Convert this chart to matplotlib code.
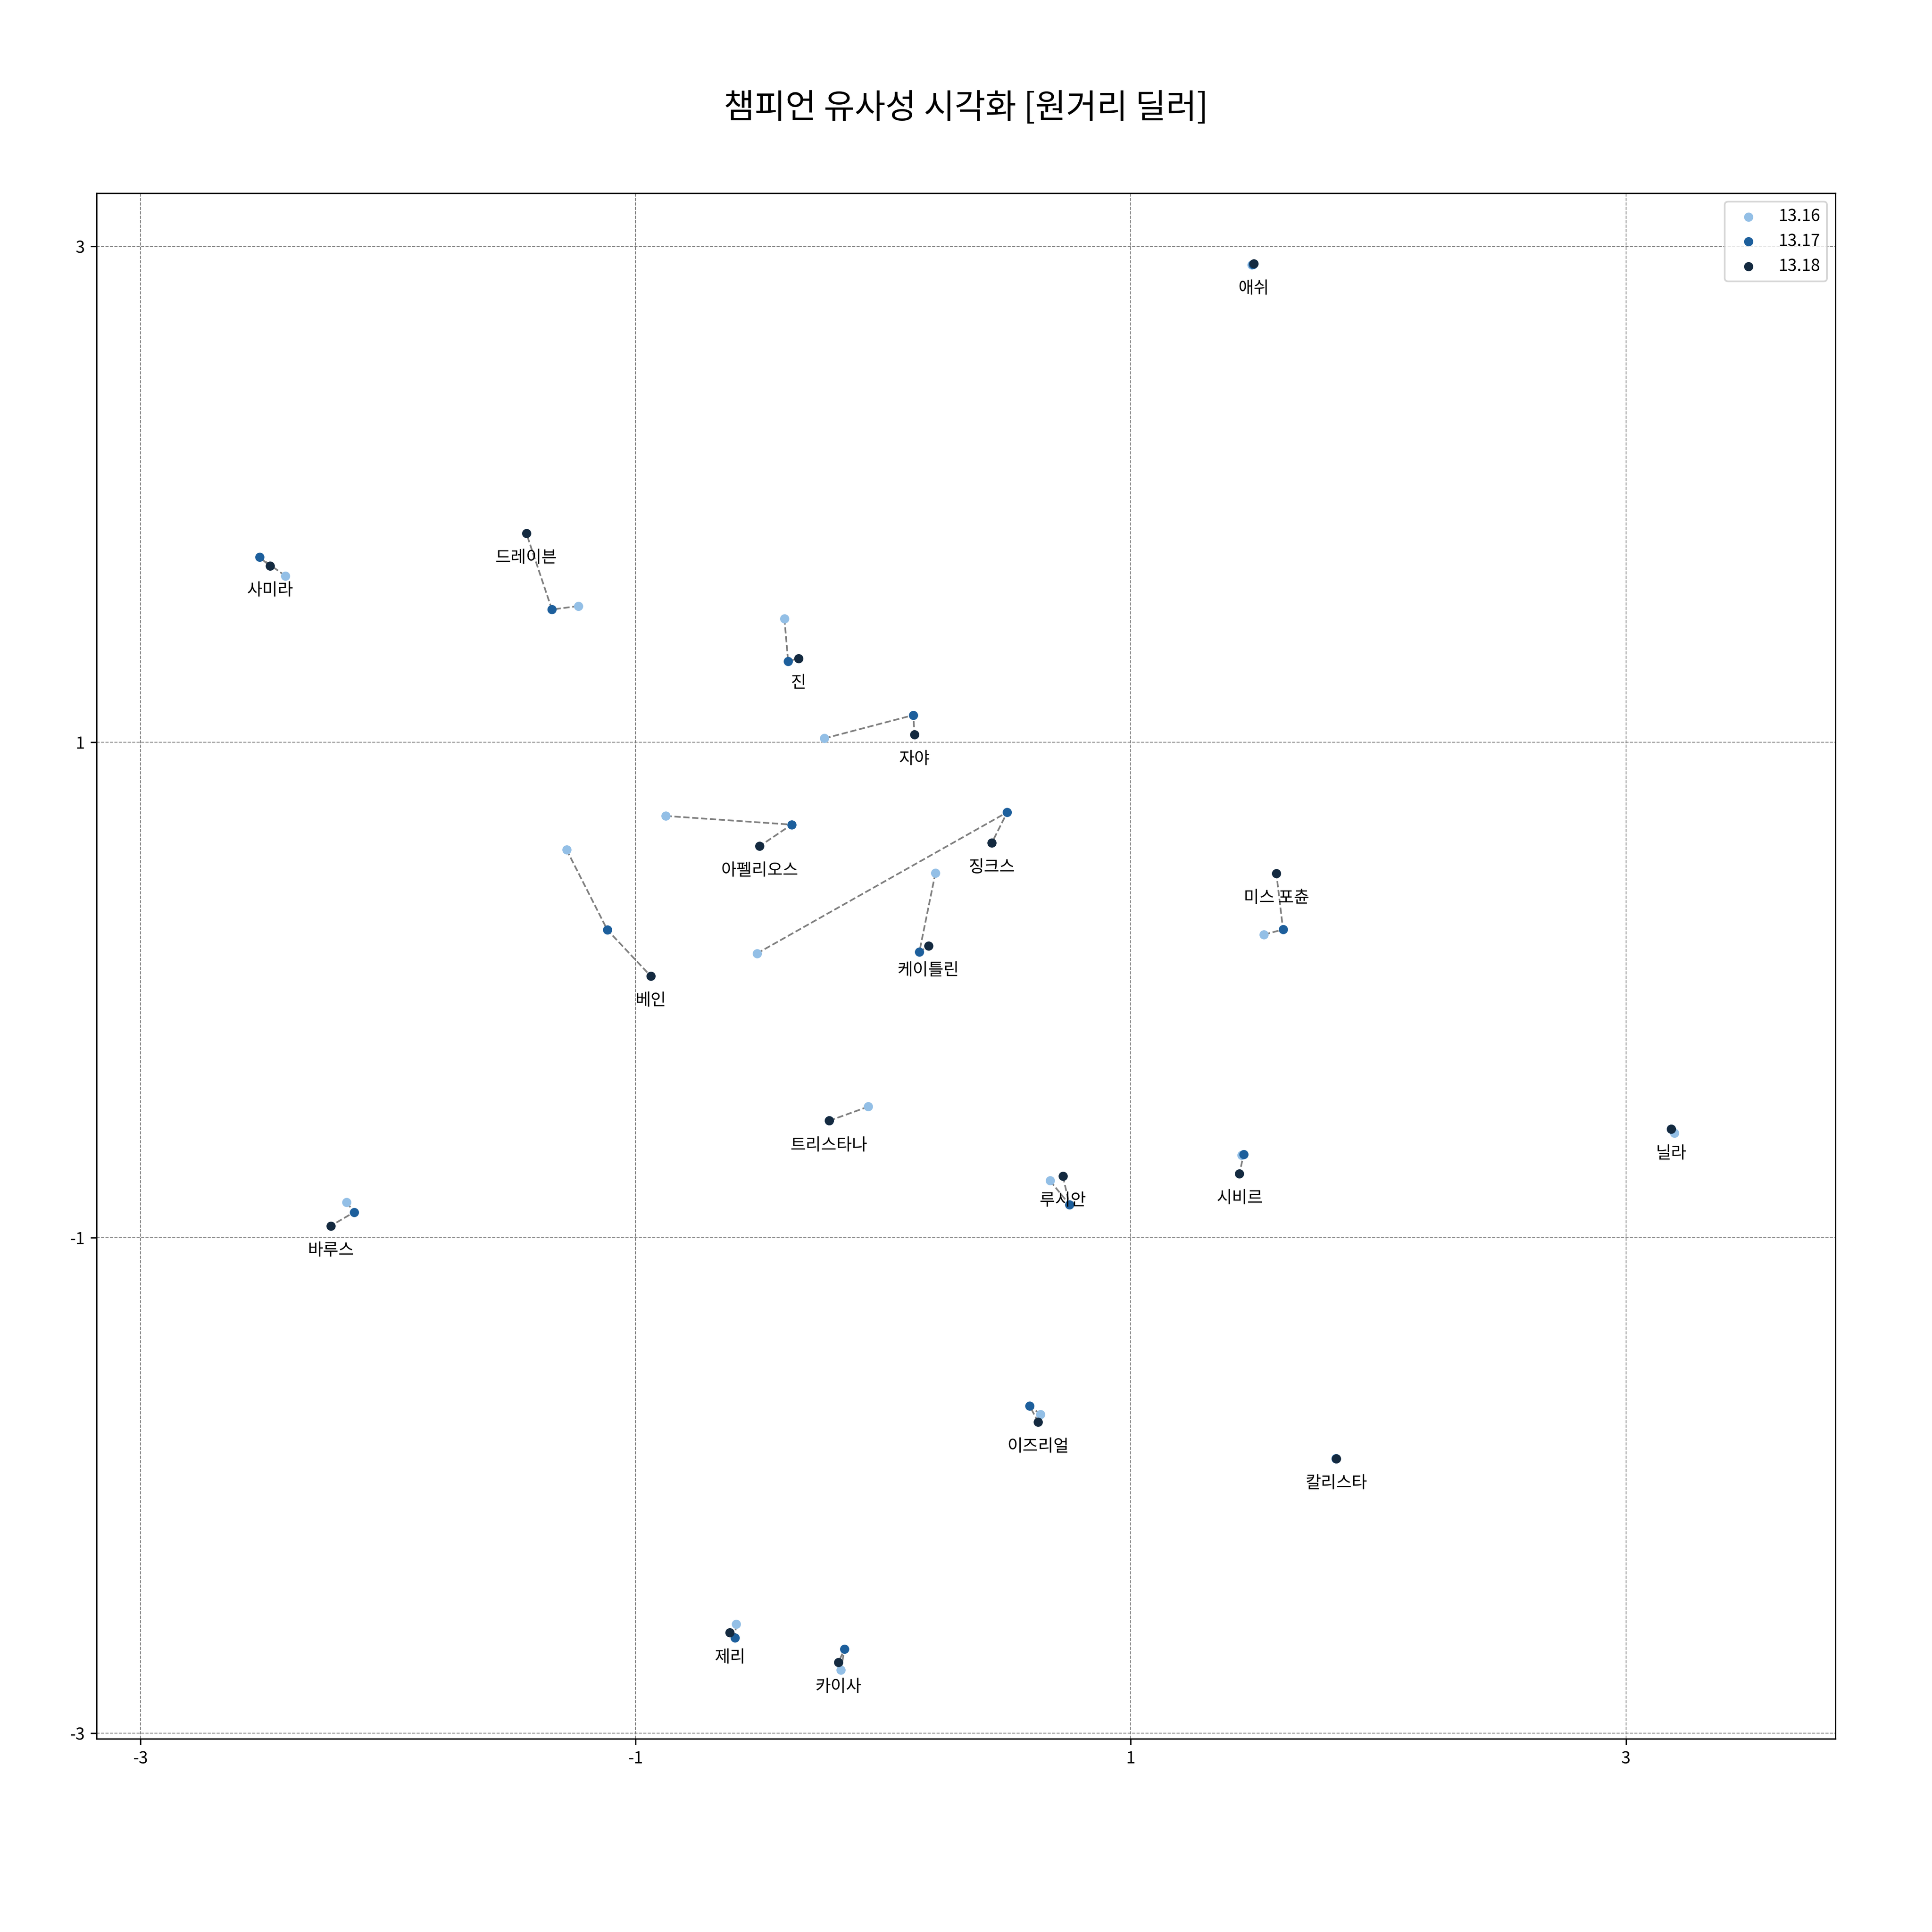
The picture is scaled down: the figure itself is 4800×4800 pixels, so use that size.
import matplotlib
matplotlib.use("Agg")
import matplotlib.pyplot as plt

plt.rcParams['font.family'] = ['Noto Sans CJK KR', 'DejaVu Sans']
plt.rcParams['axes.unicode_minus'] = False

title = "챔피언 유사성 시각화 [원거리 딜러]"
versions = ["13.16", "13.17", "13.18"]
colors = ["#93bfe6", "#1d5f9c", "#142a40"]

champions = ["사미라", "드레이븐", "진", "자야", "아펠리오스", "베인", "징크스", "케이틀린",
             "미스 포츈", "애쉬", "트리스타나", "루시안", "시비르", "닐라", "바루스",
             "이즈리얼", "칼리스타", "제리", "카이사"]

x_1316 = [-2.415, -1.231, -0.399, -0.237, -0.879, -1.279, -0.510, 0.211, 1.538, 1.489,
          -0.060, 0.674, 1.448, 3.195, -2.167, 0.636, 1.828, -0.594, -0.171]
y_1316 = [1.671, 1.549, 1.499, 1.015, 0.702, 0.566, 0.147, 0.472, 0.223, 2.926,
          -0.471, -0.770, -0.667, -0.578, -0.857, -1.713, -1.890, -2.559, -2.744]

x_1317 = [-2.519, -1.338, -0.384, 0.122, -0.370, -1.114, 0.501, 0.146, 1.615, 1.494,
          -0.218, 0.752, 1.456, 3.183, -2.137, 0.591, 1.829, -0.599, -0.156]
y_1317 = [1.746, 1.535, 1.326, 1.109, 0.667, 0.242, 0.717, 0.153, 0.244, 2.928,
          -0.528, -0.866, -0.663, -0.562, -0.897, -1.678, -1.891, -2.614, -2.659]

x_1318 = [-2.477, -1.441, -0.342, 0.126, -0.499, -0.939, 0.439, 0.183, 1.588, 1.497,
          -0.218, 0.726, 1.439, 3.182, -2.231, 0.626, 1.830, -0.619, -0.181]
y_1318 = [1.711, 1.842, 1.338, 1.030, 0.580, 0.056, 0.594, 0.178, 0.470, 2.930,
          -0.528, -0.752, -0.741, -0.561, -0.952, -1.743, -1.892, -2.594, -2.714]

ticks = [-3, -1, 1, 3]

fig = plt.figure(figsize=(16, 16), dpi=300)
ax = fig.add_axes([0.05, 0.1, 0.9, 0.8])

xs = [x_1316, x_1317, x_1318]
ys = [y_1316, y_1317, y_1318]

for i in range(len(champions)):
    ax.plot([x_1316[i], x_1317[i], x_1318[i]], [y_1316[i], y_1317[i], y_1318[i]],
            linestyle='--', color='gray', linewidth=1.0, zorder=1)

for v, c, xv, yv in zip(versions, colors, xs, ys):
    ax.scatter(xv, yv, s=20, color=c, label=v, zorder=2)

for name, xv, yv in zip(champions, x_1318, y_1318):
    ax.text(xv, yv - 0.1, name, ha='center', va='center', fontsize=10, zorder=3)

ax.set_xlim(-3.177, 3.846)
ax.set_ylim(-3.022, 3.215)
ax.set_xticks(ticks)
ax.set_yticks(ticks)
ax.set_xticklabels([str(t) for t in ticks])
ax.set_yticklabels([str(t) for t in ticks])
ax.grid(True, linestyle='--', color='gray', linewidth=0.5)
ax.legend(loc='upper right')

fig.text(0.5, 0.944, title, ha='center', va='center', fontsize=20)

fig.savefig("out.png", dpi=300)
